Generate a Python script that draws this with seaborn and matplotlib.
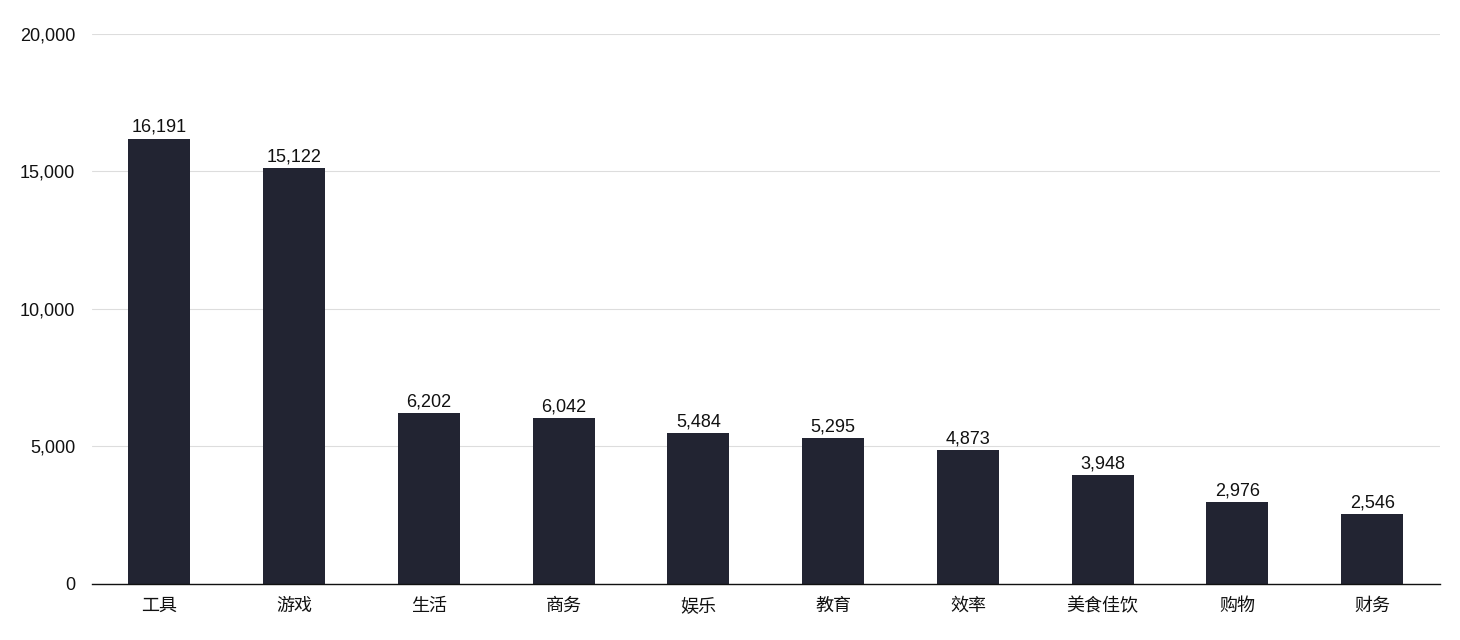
import matplotlib.pyplot as plt
import seaborn as sns
import pandas as pd

categories = ['工具', '游戏', '生活', '商务', '娱乐', '教育', '效率', '美食佳饮', '购物', '财务']
counts = [16191, 15122, 6202, 6042, 5484, 5295, 4873, 3948, 2976, 2546]
yticks = [0, 5000, 10000, 15000, 20000]

df = pd.DataFrame({'category': categories, 'count': counts})

sns.set_theme(style="white")
plt.rcParams['font.family'] = ['Liberation Sans', 'Noto Sans CJK SC', 'DejaVu Sans']

fig, ax = plt.subplots(figsize=(14.6, 6.4), dpi=100)
fig.subplots_adjust(left=0.063, right=0.986, bottom=0.0875, top=0.947)

sns.barplot(data=df, x='category', y='count', color='#222432', saturation=1,
            width=0.46, linewidth=0, ax=ax)

for i, v in enumerate(counts):
    ax.text(i, v + 100, f'{v:,}', ha='center', va='bottom', fontsize=13, color='#111111')

ax.set_ylim(0, 20000)
ax.set_yticks(yticks)
ax.set_yticklabels([f'{t:,}' for t in yticks])
ax.yaxis.grid(True, color='#dddddd', linewidth=0.8)
ax.set_axisbelow(True)
ax.set_xlim(-0.5, len(categories) - 0.5)

sns.despine(ax=ax, left=True, top=True, right=True)
ax.spines['bottom'].set_color('#111111')
ax.spines['bottom'].set_linewidth(1.0)

ax.set_xlabel('')
ax.set_ylabel('')
ax.tick_params(axis='both', which='major', labelsize=13, length=0, colors='#111111')
ax.tick_params(axis='y', pad=12)
ax.tick_params(axis='x', pad=10)

fig.savefig('out.png', dpi=100)
